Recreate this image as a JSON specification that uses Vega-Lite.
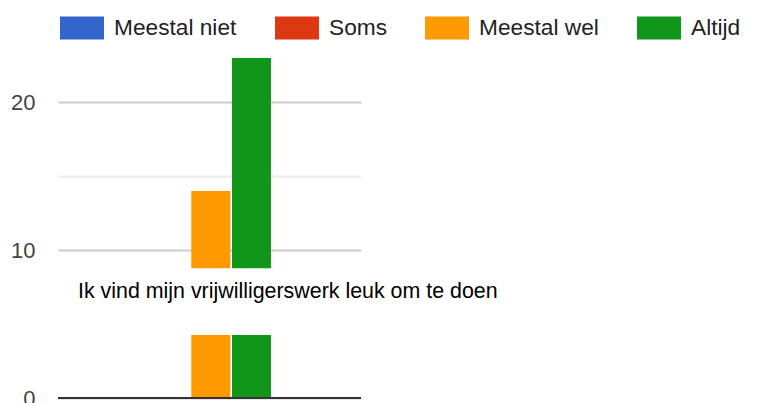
{
  "$schema": "https://vega.github.io/schema/vega-lite/v6.json",
  "width": 303,
  "height": 340,
  "autosize": {"type": "none"},
  "padding": {"left": 58, "top": 58, "right": 400, "bottom": 5},
  "background": "white",
  "config": {"view": {"stroke": null}, "font": "Liberation Sans"},
  "datasets": {
    "antwoorden": [
      {"vraag": "Ik vind mijn vrijwilligerswerk leuk om te doen", "antwoord": "Meestal niet", "aantal": 0},
      {"vraag": "Ik vind mijn vrijwilligerswerk leuk om te doen", "antwoord": "Soms", "aantal": 0},
      {"vraag": "Ik vind mijn vrijwilligerswerk leuk om te doen", "antwoord": "Meestal wel", "aantal": 14},
      {"vraag": "Ik vind mijn vrijwilligerswerk leuk om te doen", "antwoord": "Altijd", "aantal": 23}
    ],
    "vraag": [
      {"vraag": "Ik vind mijn vrijwilligerswerk leuk om te doen", "y": 7.17, "band_onder": 4.26, "band_boven": 8.78}
    ]
  },
  "layer": [
    {
      "data": {"name": "antwoorden"},
      "mark": {"type": "bar"},
      "encoding": {
        "x": {
          "field": "vraag", "type": "nominal", "axis": null,
          "scale": {"paddingInner": 0, "paddingOuter": 0.441, "align": 0.366}
        },
        "xOffset": {
          "field": "antwoord", "type": "nominal",
          "sort": ["Meestal niet", "Soms", "Meestal wel", "Altijd"],
          "scale": {"paddingInner": 0.04, "paddingOuter": 0}
        },
        "y": {
          "field": "aantal", "type": "quantitative",
          "scale": {"domain": [0, 23], "nice": false},
          "axis": {
            "title": null,
            "values": [0, 5, 10, 15, 20],
            "labelExpr": "datum.value % 10 === 0 ? datum.label : ''",
            "labelFontSize": 22,
            "labelColor": "#444444",
            "labelPadding": 23,
            "ticks": false,
            "tickSize": 0,
            "domain": false,
            "gridColor": {"condition": {"test": "datum.value % 10 === 0", "value": "#cccccc"}, "value": "#ebebeb"},
            "gridWidth": 2,
            "gridOpacity": 1
          }
        },
        "color": {
          "field": "antwoord", "type": "nominal",
          "sort": ["Meestal niet", "Soms", "Meestal wel", "Altijd"],
          "scale": {
            "domain": ["Meestal niet", "Soms", "Meestal wel", "Altijd"],
            "range": ["#3366cc", "#dc3912", "#ff9900", "#109618"]
          },
          "legend": {
            "title": null,
            "orient": "top",
            "direction": "horizontal",
            "offset": 16,
            "padding": 2,
            "symbolType": "M-1,-1H2.826V1H-1Z",
            "symbolSize": 529,
            "symbolStrokeWidth": 0,
            "symbolOpacity": 1,
            "labelFontSize": 22.7,
            "labelColor": "#222222",
            "labelOffset": 31,
            "columnPadding": 38
          }
        }
      }
    },
    {
      "data": {"name": "vraag"},
      "mark": {"type": "rect", "color": "white"},
      "encoding": {
        "y": {"field": "band_onder", "type": "quantitative"},
        "y2": {"field": "band_boven"}
      }
    },
    {
      "data": {"name": "vraag"},
      "mark": {"type": "text", "align": "left", "baseline": "middle", "fontSize": 21.4, "color": "#000000", "dx": -32},
      "encoding": {
        "x": {"field": "vraag", "type": "nominal", "bandPosition": 0},
        "y": {"field": "y", "type": "quantitative"},
        "text": {"field": "vraag"}
      }
    },
    {
      "data": {"name": "antwoorden"},
      "mark": {"type": "rule", "color": "#333333", "strokeWidth": 2},
      "encoding": {"y": {"datum": 0}}
    }
  ]
}
